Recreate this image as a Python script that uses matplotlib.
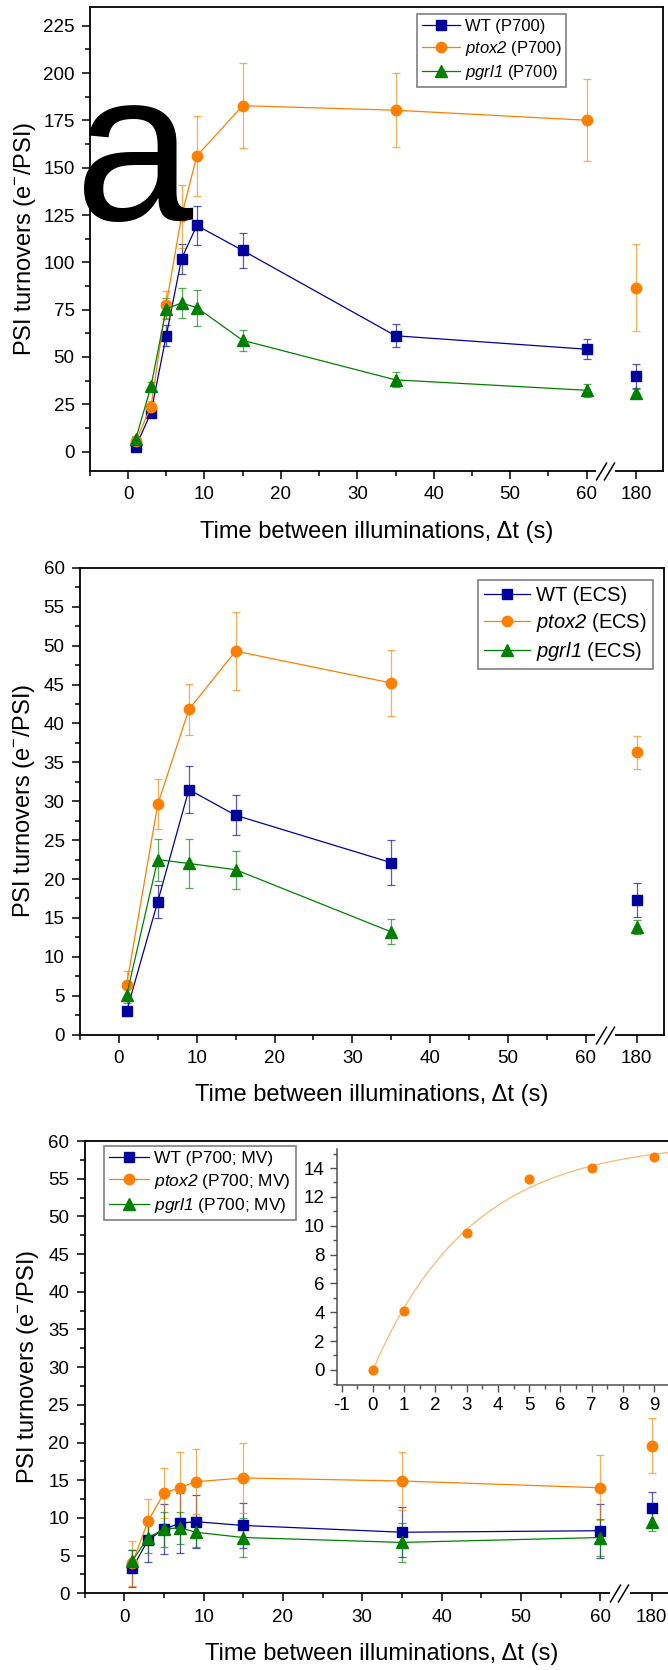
import numpy as np
import matplotlib
matplotlib.use("Agg")
import matplotlib.pyplot as plt
from matplotlib.colors import to_rgba
from matplotlib.ticker import FixedLocator, MultipleLocator

plt.rcParams["font.family"] = ["Liberation Sans", "DejaVu Sans"]
plt.rcParams["axes.unicode_minus"] = False
plt.rcParams["mathtext.fontset"] = "custom"
plt.rcParams["mathtext.rm"] = "Liberation Sans"
plt.rcParams["mathtext.it"] = "Liberation Sans:italic"
# sf slot used for italic strain names (keeps the digits italic too)
plt.rcParams["mathtext.sf"] = "Liberation Sans:italic"

# time between illuminations (s); the 180 s point sits after the axis break
t_p700 = [1, 3, 5, 7, 9, 15, 35, 60, 180]
t_ecs = [1, 5, 9, 15, 35, 180]

# PSI turnovers from P700 kinetics
wt_p700 = [2.5, 20.5, 61.2, 101.8, 119.5, 106.3, 61.2, 54.1, 39.9]
wt_p700_err = [1.0, 2.0, 5.5, 8.0, 10.5, 9.4, 6.0, 5.3, 6.2]
ptox2_p700 = [5.5, 23.7, 77.7, 124.3, 156.2, 182.8, 180.4, 175.1, 86.5]
ptox2_p700_err = [2.0, 3.0, 7.0, 16.5, 21.0, 22.6, 19.6, 21.8, 23.0]
pgrl1_p700 = [6.5, 34.4, 75.5, 78.5, 76.1, 58.8, 37.9, 32.4, 31.1]
pgrl1_p700_err = [1.5, 2.5, 5.5, 8.0, 9.5, 5.6, 4.0, 3.3, 2.0]

# PSI turnovers from ECS
wt_ecs = [3.0, 17.1, 31.5, 28.2, 22.1, 17.3]
wt_ecs_err = [0.6, 2.1, 3.0, 2.55, 2.9, 2.2]
ptox2_ecs = [6.4, 29.6, 41.8, 49.3, 45.2, 36.3]
ptox2_ecs_err = [1.8, 3.2, 3.3, 5.0, 4.3, 2.1]
pgrl1_ecs = [5.05, 22.5, 22.0, 21.2, 13.2, 13.8]
pgrl1_ecs_err = [1.0, 2.7, 3.1, 2.45, 1.6, 0.9]

# PSI turnovers from P700 with methyl viologen
wt_mv = [3.3, 7.1, 8.5, 9.3, 9.5, 9.0, 8.1, 8.3, 11.3]
wt_mv_err = [2.4, 3.0, 3.3, 4.0, 3.5, 3.0, 3.3, 3.6, 2.2]
ptox2_mv = [4.0, 9.6, 13.3, 14.0, 14.8, 15.3, 14.9, 14.0, 19.6]
ptox2_mv_err = [3.0, 2.9, 3.3, 4.8, 4.3, 4.7, 3.9, 4.3, 3.6]
pgrl1_mv = [4.3, 7.4, 8.5, 8.7, 8.1, 7.4, 6.75, 7.4, 9.5]
pgrl1_mv_err = [1.5, 2.0, 2.3, 2.1, 2.0, 2.6, 2.6, 2.5, 1.3]

# inset: ptox2 (MV) first points, t shifted to start at 0
inset_t = [0, 1, 3, 5, 7, 9]
inset_ptox2 = [0.0, 4.07, 9.5, 13.27, 14.03, 14.76]

BLUE = "#00009c"
ORANGE = "#ff8000"
GREEN = "#008000"
BREAK_POS = 66.5     # where the 180 s point is placed on the x axis
W, H = 668, 1670


def px_rect(left, top, right, bottom):
    return [left / W, 1 - bottom / H, (right - left) / W, (bottom - top) / H]


def draw_series(ax, t, y, err, color, marker, ms, label):
    t = np.array(t, dtype=float)
    y = np.array(y)
    err = np.array(err)
    main = t <= 60
    x = np.where(main, t, BREAK_POS)
    ax.errorbar(x, y, yerr=err, fmt="none", ecolor=to_rgba(color, 0.65),
                elinewidth=0.9, capsize=3, capthick=0.9, zorder=2)
    ax.plot(x[main], y[main], color=color, lw=0.9, marker=marker, ms=ms,
            mec=color, label=label, zorder=3)
    ax.plot(x[~main], y[~main], color=color, ls="none", marker=marker, ms=ms,
            mec=color, zorder=3)


def setup_axes(ax, ylim, ymajor, yminor, ylabel_x, xlabel_y):
    ax.set_xlim(-5, 70)
    ax.set_ylim(*ylim)
    ax.xaxis.set_major_locator(FixedLocator([0, 10, 20, 30, 40, 50, 60, BREAK_POS]))
    ax.set_xticklabels(["0", "10", "20", "30", "40", "50", "60", "180"])
    ax.xaxis.set_minor_locator(FixedLocator([-5, 5, 15, 25, 35, 45, 55]))
    ax.yaxis.set_major_locator(MultipleLocator(ymajor))
    ax.yaxis.set_minor_locator(MultipleLocator(yminor))
    ax.tick_params(which="both", direction="out", width=1.1, labelsize=13.5,
                   top=False, right=False)
    ax.tick_params(which="major", length=6, pad=5)
    ax.tick_params(which="minor", length=3.5)
    for s in ax.spines.values():
        s.set_linewidth(1.3)
    ax.set_xlabel("Time between illuminations, \u0394t (s)", fontsize=17)
    ax.set_ylabel(r"PSI turnovers (e$^{-}$/PSI)", fontsize=17)
    ax.xaxis.set_label_coords(0.5, xlabel_y)
    ax.xaxis.label.set_va("center")
    ax.yaxis.set_label_coords(ylabel_x, 0.5)
    ax.yaxis.label.set_va("center")

    # axis break between 60 and 180 s
    trans = ax.get_xaxis_transform()
    ax.plot([61.2, 63.7], [0, 0], transform=trans, color="white", lw=3,
            clip_on=False, zorder=5, solid_capstyle="butt")
    ax.plot([61.9, 62.9], [0, 0], transform=trans, ls="none",
            marker=[(-0.3, -0.5), (0.3, 0.5)], ms=13, mfc="none", mec="black",
            mew=1.1, clip_on=False, zorder=6)


def add_legend(ax, x, y, fontsize):
    leg = ax.legend(loc="upper left", bbox_to_anchor=(x, y), borderaxespad=0,
                    fontsize=fontsize, fancybox=False, edgecolor="#808080",
                    framealpha=1, handlelength=2.3, handletextpad=0.3,
                    labelspacing=0.3, borderpad=0.3)
    leg.get_frame().set_linewidth(1.2)


fig = plt.figure(figsize=(W / 100, H / 100), dpi=100)

# panel a: P700
ax1 = fig.add_axes(px_rect(89.8, 6.9, 663.0, 470.5))
draw_series(ax1, t_p700, wt_p700, wt_p700_err, BLUE, "s", 7, "WT (P700)")
draw_series(ax1, t_p700, ptox2_p700, ptox2_p700_err, ORANGE, "o", 7.5,
            r"$\mathsf{ptox2}$ (P700)")
draw_series(ax1, t_p700, pgrl1_p700, pgrl1_p700_err, GREEN, "^", 8,
            r"$\mathsf{pgrl1}$ (P700)")
setup_axes(ax1, (-10, 235), 25, 12.5, -0.113, -0.133)
add_legend(ax1, 0.570, 0.984, 12)

# panel b: ECS
ax2 = fig.add_axes(px_rect(79.9, 567.9, 663.8, 1034.6))
draw_series(ax2, t_ecs, wt_ecs, wt_ecs_err, BLUE, "s", 7, "WT (ECS)")
draw_series(ax2, t_ecs, ptox2_ecs, ptox2_ecs_err, ORANGE, "o", 7.5,
            r"$\mathsf{ptox2}$ (ECS)")
draw_series(ax2, t_ecs, pgrl1_ecs, pgrl1_ecs_err, GREEN, "^", 8,
            r"$\mathsf{pgrl1}$ (ECS)")
setup_axes(ax2, (0, 60), 5, 2.5, -0.095, -0.129)
add_legend(ax2, 0.6815, 0.974, 14.5)

# panel c: P700 with MV
ax3 = fig.add_axes(px_rect(84.7, 1141.0, 679.5, 1593.3))
draw_series(ax3, t_p700, wt_mv, wt_mv_err, BLUE, "s", 7, "WT (P700; MV)")
draw_series(ax3, t_p700, ptox2_mv, ptox2_mv_err, ORANGE, "o", 7.5,
            r"$\mathsf{ptox2}$ (P700; MV)")
draw_series(ax3, t_p700, pgrl1_mv, pgrl1_mv_err, GREEN, "^", 8,
            r"$\mathsf{pgrl1}$ (P700; MV)")
setup_axes(ax3, (0, 60), 5, 2.5, -0.0957, -0.134)
add_legend(ax3, 0.0323, 0.989, 12.5)

# inset with single-exponential rise fitted to the ptox2 points
axi = fig.add_axes(px_rect(337.3, 1149.3, 673.0, 1385.0))
axi.set_facecolor("none")
ti = np.array(inset_t, dtype=float)
yi = np.array(inset_ptox2)
best = None
for tau in np.linspace(0.5, 10, 2000):
    f = 1 - np.exp(-ti / tau)
    amp = np.sum(yi * f) / np.sum(f * f)
    res = np.sum((yi - amp * f) ** 2)
    if best is None or res < best[0]:
        best = (res, amp, tau)
_, amp, tau = best
tt = np.linspace(0, 9.6, 300)
axi.plot(tt, amp * (1 - np.exp(-tt / tau)), color="#ffb870", lw=0.9, zorder=2)
axi.plot(ti, yi, ls="none", marker="o", ms=6.3, color=ORANGE, zorder=3)
axi.set_xlim(-1.14, 9.6)
axi.set_ylim(-1.05, 15.3)
axi.xaxis.set_major_locator(FixedLocator(np.arange(-1, 10)))
axi.xaxis.set_minor_locator(FixedLocator(np.arange(-0.5, 9.6, 1.0)))
axi.yaxis.set_major_locator(MultipleLocator(2))
axi.yaxis.set_minor_locator(MultipleLocator(1))
axi.spines["top"].set_visible(False)
axi.spines["right"].set_visible(False)
for s in ("left", "bottom"):
    axi.spines[s].set_color("#505050")
    axi.spines[s].set_linewidth(1.1)
axi.tick_params(which="both", direction="out", color="#505050", width=1.0,
                labelsize=13.5)
axi.tick_params(which="major", length=5, pad=4)
axi.tick_params(which="minor", length=3)

fig.text(75 / W, 1 - 220.5 / H, "a", fontsize=153, ha="left", va="baseline")

fig.savefig("out.png", dpi=100)
